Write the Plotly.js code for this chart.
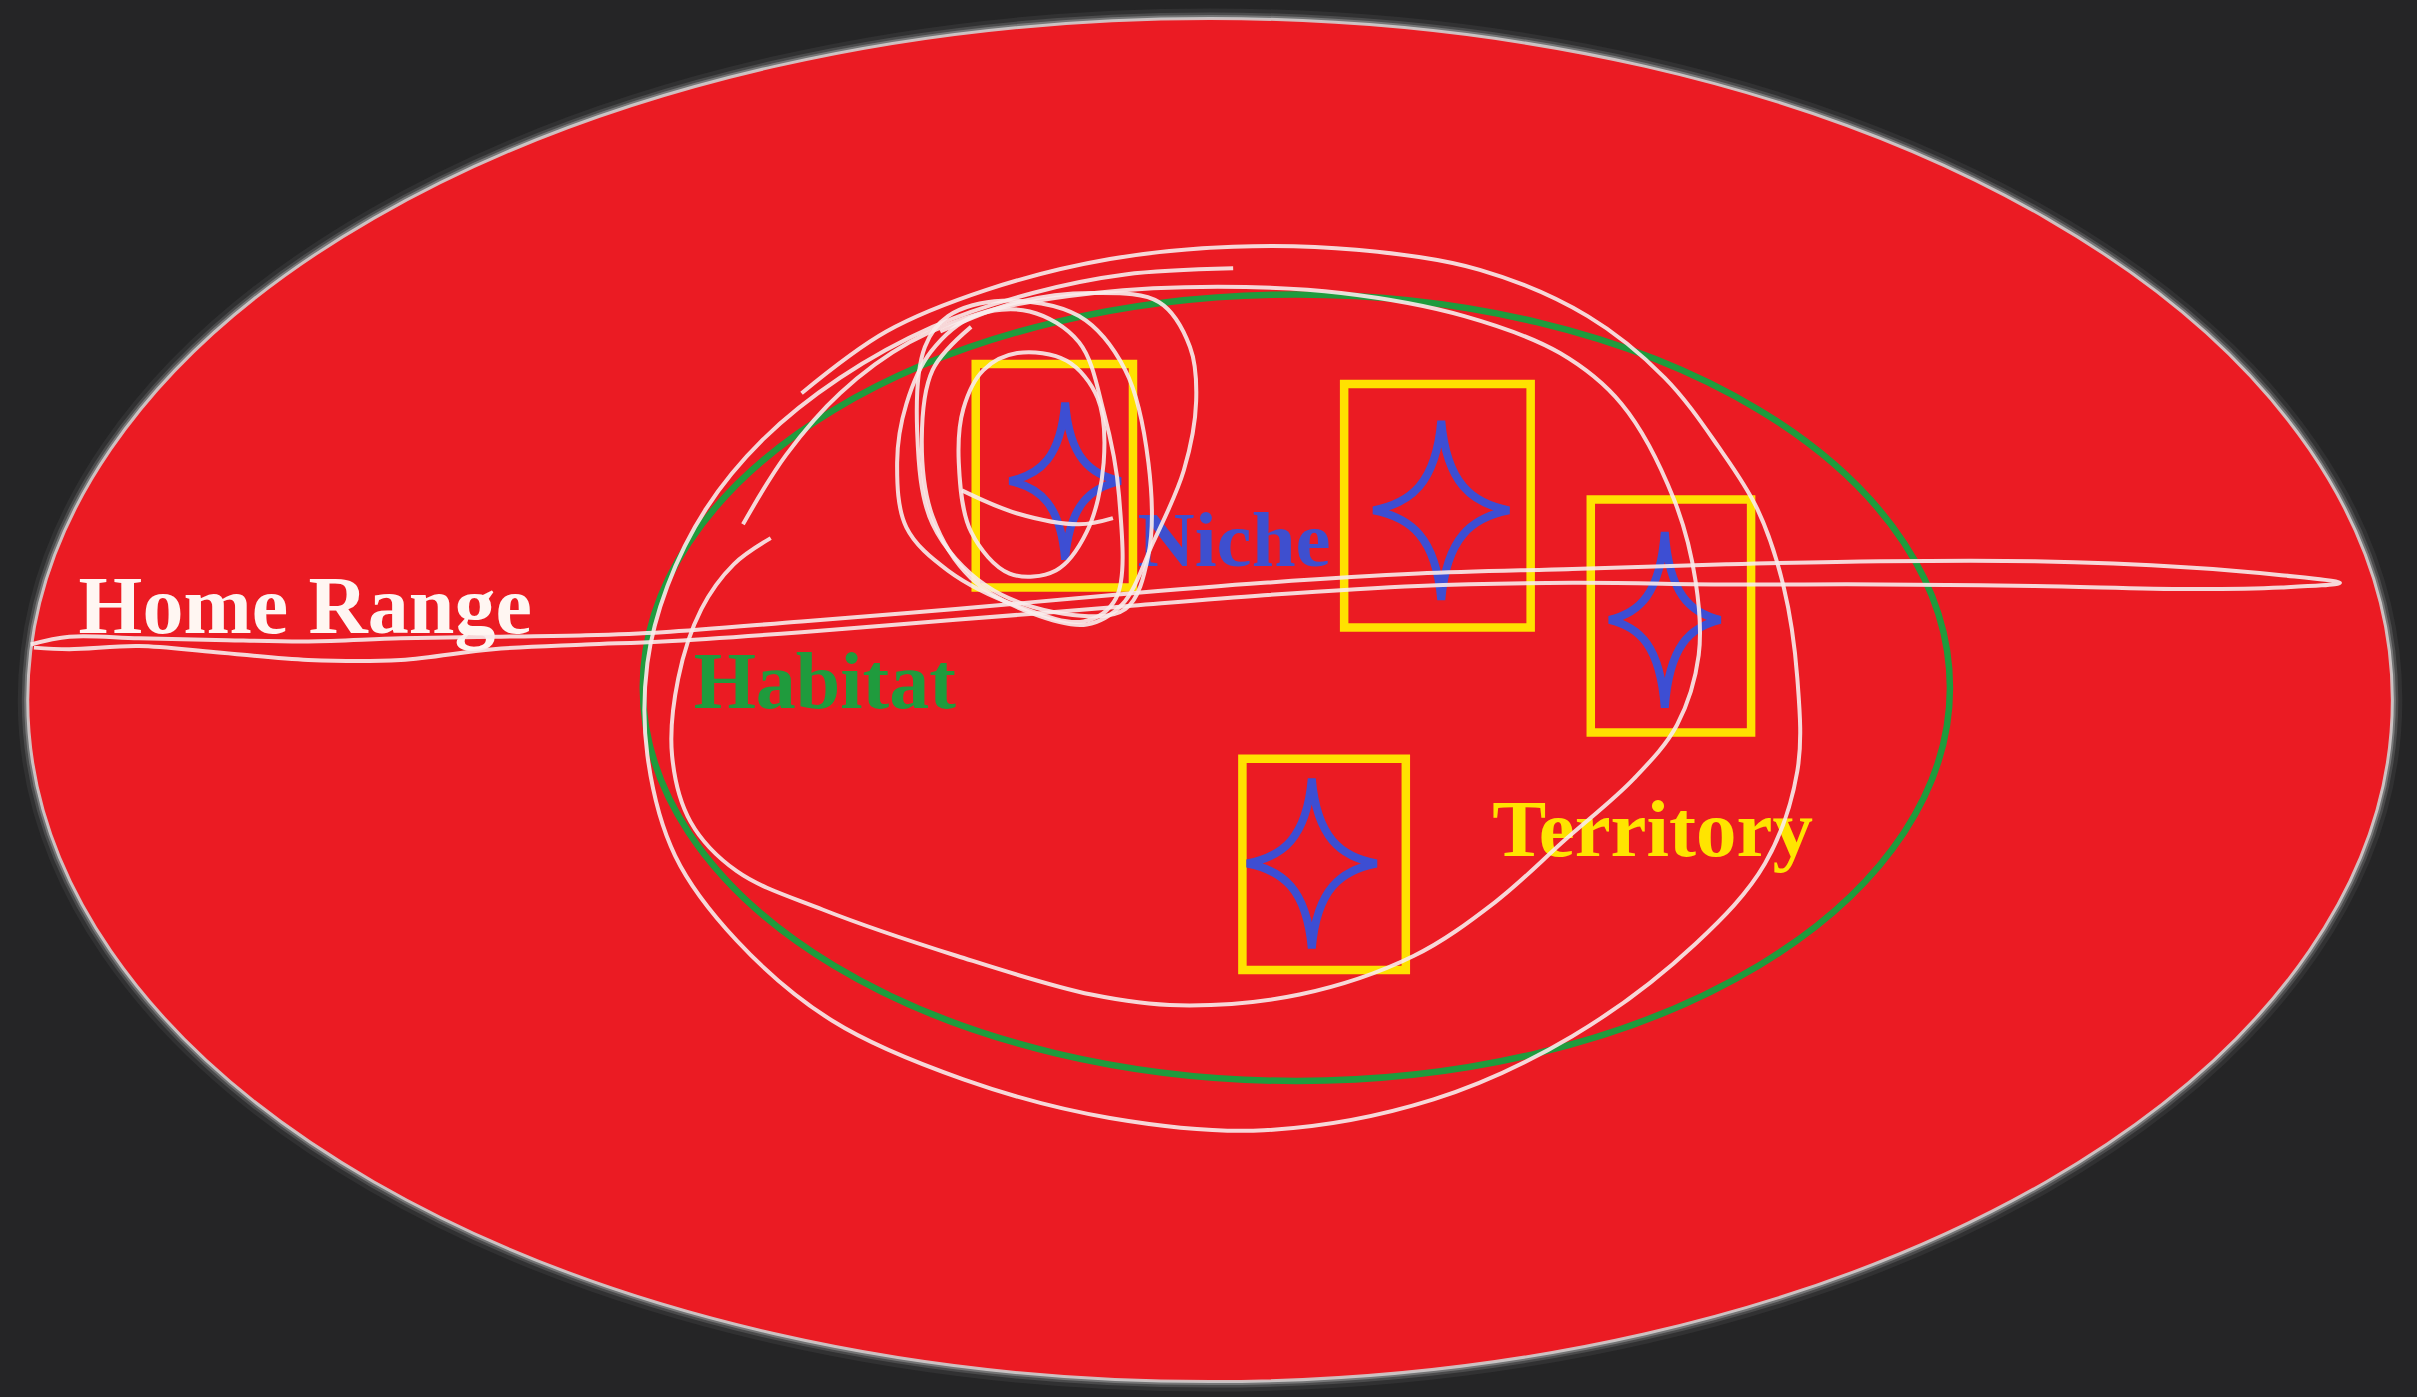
<!DOCTYPE html>
<html>
<head>
<meta charset="utf-8">
<script src="https://cdn.plot.ly/plotly-3.0.1.min.js"></script>
<style>html,body{margin:0;padding:0;background:#252526;}#chart{width:2417px;height:1397px;}</style>
</head>
<body>
<div id="chart"></div>
<script>
// ---- data (coordinates in the reference picture's 1568 x 906 frame) ----
const ovalCenter = [785, 454];
const ovalRadii = [767, 442];
const habitatCenter = [841, 446];
const habitatRadii = [424, 255];

const boxX0 = [633, 872, 1032, 806];
const boxX1 = [735, 993, 1136, 912];
const boxY0 = [236, 249, 324, 492];
const boxY1 = [381, 407, 475, 629];

const starX = [691, 935, 1080, 851];
const starY = [312, 331, 402, 560];
const starHalfW = [36, 44, 36, 42];
const starHalfH = [51, 58, 57, 55];

const labels = ["Home Range", "Habitat", "Niche", "Territory"];
const labelX = [51, 450, 738, 968];
const labelY = [397, 446, 354, 542];
const labelSizes = [82, 80, 79, 81];
const labelColors = ["#FFF6F2", "#1F9B3D", "#3E4FCF", "#FFE400"];

// white freehand strokes
const homeRangeX = [20,45,90,140,200,260,320,380,430,520,620,720,820,920,1020,1120,1220,1320,1420,1480,1518,1480,1420,1320,1220,1120,1020,920,820,720,620,520,430,380,320,260,200,140,90,45,22];
const homeRangeY = [418,413,414,415,416,414,413,412,410,403,395,386,378,372,369,366,364,364,368,373,378,381,382,380,379,379,378,380,386,394,402,410,416,418,421,428,428,423,419,421,420];

const outerLoopX = [520,575,640,720,800,880,960,1030,1080,1115,1140,1157,1166,1166,1145,1100,1020,930,820,720,625,540,478,438,420,420,433,458,495,545,605,670,730,800];
const outerLoopY = [255,215,188,168,160,162,175,205,245,290,330,380,440,500,560,612,672,713,733,725,700,662,610,555,490,430,380,330,285,245,212,190,178,174];

const innerLoopX = [500,476,455,440,436,448,478,534,621,708,765,843,917,970,1015,1060,1088,1102,1100,1086,1052,1012,950,870,790,710,640,590,545,510,482];
const innerLoopY = [349,366,395,440,490,533,565,590,620,645,652,645,620,585,545,505,470,425,377,324,262,229,205,190,186,190,202,222,255,295,340];

const nicheLoop1X = [625,622,630,655,685,705,716,712,692,660,638,625];
const nicheLoop1Y = [265,300,345,372,370,345,300,258,234,229,240,265];
const nicheChordX = [624,660,700,722];
const nicheChordY = [318,333,340,336];
const nicheLoop2X = [588,582,588,615,660,703,724,726,716,700,668,632,604,588];
const nicheLoop2Y = [262,300,342,370,393,403,388,322,267,222,202,205,228,262];
const nicheLoop3X = [610,660,710,752,772,776,768,748,728,705,670,630,605,598,605,630];
const nicheLoop3Y = [215,196,190,196,225,260,305,352,392,405,398,375,335,285,240,212];
const nicheLoop4X = [600,595,605,640,690,730,745,745,730,700,650,615,600];
const nicheLoop4Y = [225,280,340,380,398,395,360,300,240,205,195,205,225];

// ---- build ----
const shapes = [];
const ovalBox = {
  x0: ovalCenter[0]-ovalRadii[0], x1: ovalCenter[0]+ovalRadii[0],
  y0: ovalCenter[1]-ovalRadii[1], y1: ovalCenter[1]+ovalRadii[1]
};
// soft glow of the big oval
[[20,'rgba(160,160,160,0.10)'],[12,'rgba(180,180,180,0.20)'],[7,'rgba(200,200,200,0.35)']].forEach(([w,c]) => {
  shapes.push(Object.assign({type:'circle', xref:'x', yref:'y', layer:'below',
    line:{color:c, width:w}, fillcolor:'rgba(0,0,0,0)'}, ovalBox));
});
shapes.push(Object.assign({type:'circle', xref:'x', yref:'y', layer:'below',
  line:{color:'rgba(210,205,205,0.9)', width:3}, fillcolor:'#EB1B23'}, ovalBox));
// habitat ellipse
shapes.push({type:'circle', xref:'x', yref:'y', layer:'below',
  x0: habitatCenter[0]-habitatRadii[0], x1: habitatCenter[0]+habitatRadii[0],
  y0: habitatCenter[1]-habitatRadii[1], y1: habitatCenter[1]+habitatRadii[1],
  line:{color:'#1F9B3D', width:6.5}, fillcolor:'rgba(0,0,0,0)'});
// territory boxes
for (let i = 0; i < boxX0.length; i++) {
  shapes.push({type:'rect', xref:'x', yref:'y', layer:'below',
    x0: boxX0[i], x1: boxX1[i], y0: boxY0[i], y1: boxY1[i],
    line:{color:'#FFE100', width:8.5}, fillcolor:'rgba(0,0,0,0)'});
}
// niche stars: four spikes joined by concave cubic curves
const ax = 0.08, ay = 0.30, bx = 0.45, by = 0.08;
for (let i = 0; i < starX.length; i++) {
  const cx = starX[i], cy = starY[i], w = starHalfW[i], h = starHalfH[i];
  const P = (u, v) => `${cx + u*w} ${cy + v*h}`;
  const p = `M ${P(0,-1)} C ${P(ax,-ay)} ${P(bx,-by)} ${P(1,0)} C ${P(bx,by)} ${P(ax,ay)} ${P(0,1)} ` +
            `C ${P(-ax,ay)} ${P(-bx,by)} ${P(-1,0)} C ${P(-bx,-by)} ${P(-ax,-ay)} ${P(0,-1)} Z`;
  shapes.push({type:'path', xref:'x', yref:'y', layer:'below', path:p,
    line:{color:'#3D4ED3', width:8}, fillcolor:'rgba(0,0,0,0)'});
}

const traces = [];
for (let i = 0; i < labels.length; i++) {
  traces.push({type:'scatter', mode:'text', x:[labelX[i]], y:[labelY[i]], text:[labels[i]],
    textposition:'middle right', hoverinfo:'skip', showlegend:false,
    textfont:{family:'Liberation Serif, Times New Roman, serif', size:labelSizes[i], color:labelColors[i], weight:'bold'}});
}
const white = {color:'rgba(248,236,236,0.9)', width:4, shape:'spline', smoothing:1};
[[homeRangeX, homeRangeY],[outerLoopX, outerLoopY],[innerLoopX, innerLoopY],
 [nicheLoop1X, nicheLoop1Y],[nicheChordX, nicheChordY],[nicheLoop2X, nicheLoop2Y],
 [nicheLoop3X, nicheLoop3Y],[nicheLoop4X, nicheLoop4Y]].forEach(([xs, ys]) => {
  traces.push({type:'scatter', mode:'lines', x:xs, y:ys, line:white, hoverinfo:'skip', showlegend:false});
});

const layout = {
  width:2417, height:1397, margin:{l:0,r:0,t:0,b:0},
  paper_bgcolor:'#252526', plot_bgcolor:'#252526',
  xaxis:{range:[0,1568], visible:false, fixedrange:true},
  yaxis:{range:[906,0], visible:false, fixedrange:true},
  shapes:shapes, showlegend:false
};
Plotly.newPlot('chart', traces, layout, {staticPlot:true, displayModeBar:false});
</script>
</body>
</html>
